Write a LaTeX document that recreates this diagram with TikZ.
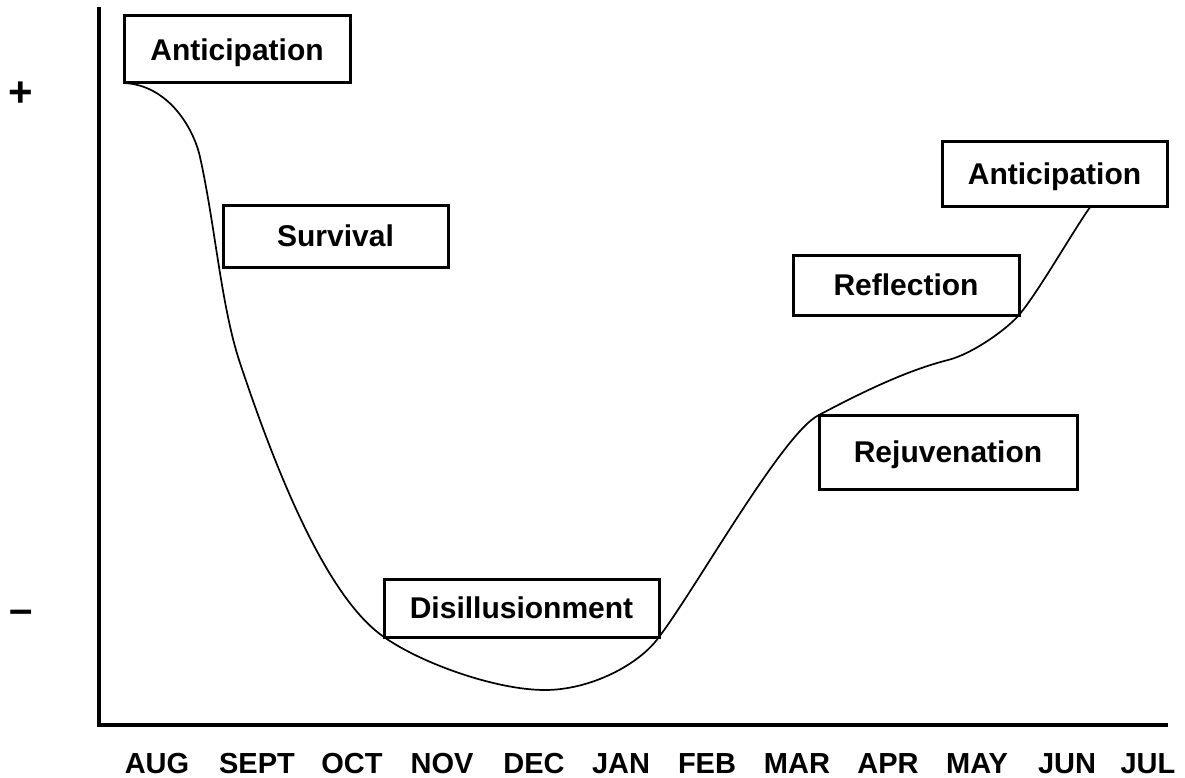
\documentclass[tikz,border=0pt]{standalone}
\usepackage{fontspec}
\setmainfont{Liberation Sans}
\usetikzlibrary{calc}
\begin{document}
\begin{tikzpicture}[x=1pt,y=-1pt,
  phase/.style={draw, line width=3pt, inner sep=0pt, outer sep=0pt, font=\fontsize{30}{30}\selectfont\bfseries, text height=21.5pt, text depth=0pt},
  month/.style={font=\fontsize{29}{29}\selectfont\bfseries, inner sep=0pt, text height=20.8pt, text depth=0pt, anchor=base},
  sign/.style={font=\fontsize{42}{42}\selectfont\bfseries, inner sep=0pt, anchor=base},
  axis/.style={line width=3.5pt},
  trend/.style={line width=1.7pt}]
\useasboundingbox (0,0) rectangle (1185,778);
% axes
\coordinate (top) at (99,7);
\coordinate (xend) at (1168,725);
\draw[axis] (top) |- (xend);
% signs
\node[sign] (plus) at (21,107) {+};
\node[sign] (minus) at (21,623) {–};
% phase boxes
\node[phase, minimum width=226pt, minimum height=67pt] (ant1) at (237,49.5) {Anticipation};
\node[phase, minimum width=225pt, minimum height=62pt] (surv) at (335.5,236) {Survival};
\node[phase, minimum width=275pt, minimum height=58pt] (dis) at (521.5,608) {Disillusionment};
\node[phase, minimum width=258pt, minimum height=74pt] (rej) at (948,452) {Rejuvenation};
\node[phase, minimum width=226pt, minimum height=60pt] (ref) at (906,285) {Reflection};
\node[phase, minimum width=225pt, minimum height=64pt] (ant2) at (1054.5,174) {Anticipation};
% curve junctions
\coordinate (k1) at (200,157);
\coordinate (k2) at (240,363);
\coordinate (low) at (545,690);
\coordinate (flat) at (948,360);
\coordinate (cend) at ($(ant2.south west)!0.662!(ant2.south east)$);
% curve
\draw[trend] (ant1.south west)
  .. controls (168,85) and (193.5,127.7) .. (k1)
  .. controls (215.2,225.3) and (221,306) .. (k2)
  .. controls (274.8,467.4) and (325.6,597) .. (dis.south west)
  .. controls (420,662.6) and (495,690) .. (low)
  .. controls (590,690) and (639,665) .. (dis.south east)
  .. controls (695.7,588.8) and (783.4,432) .. (rej.north west)
  .. controls (868,389) and (909,370) .. (flat)
  .. controls (972,354) and (1006,330) .. (ref.south east)
  .. controls (1038.5,292) and (1076,226) .. (cend);
% months
\foreach \m/\x [count=\i] in {AUG/157,SEPT/257,OCT/352,NOV/442,DEC/534,JAN/621,FEB/707,MAR/797,APR/888,MAY/977,JUN/1067,JUL/1148}
  \node[month] (m\i) at (\x,773.5) {\m};
\end{tikzpicture}
\end{document}
